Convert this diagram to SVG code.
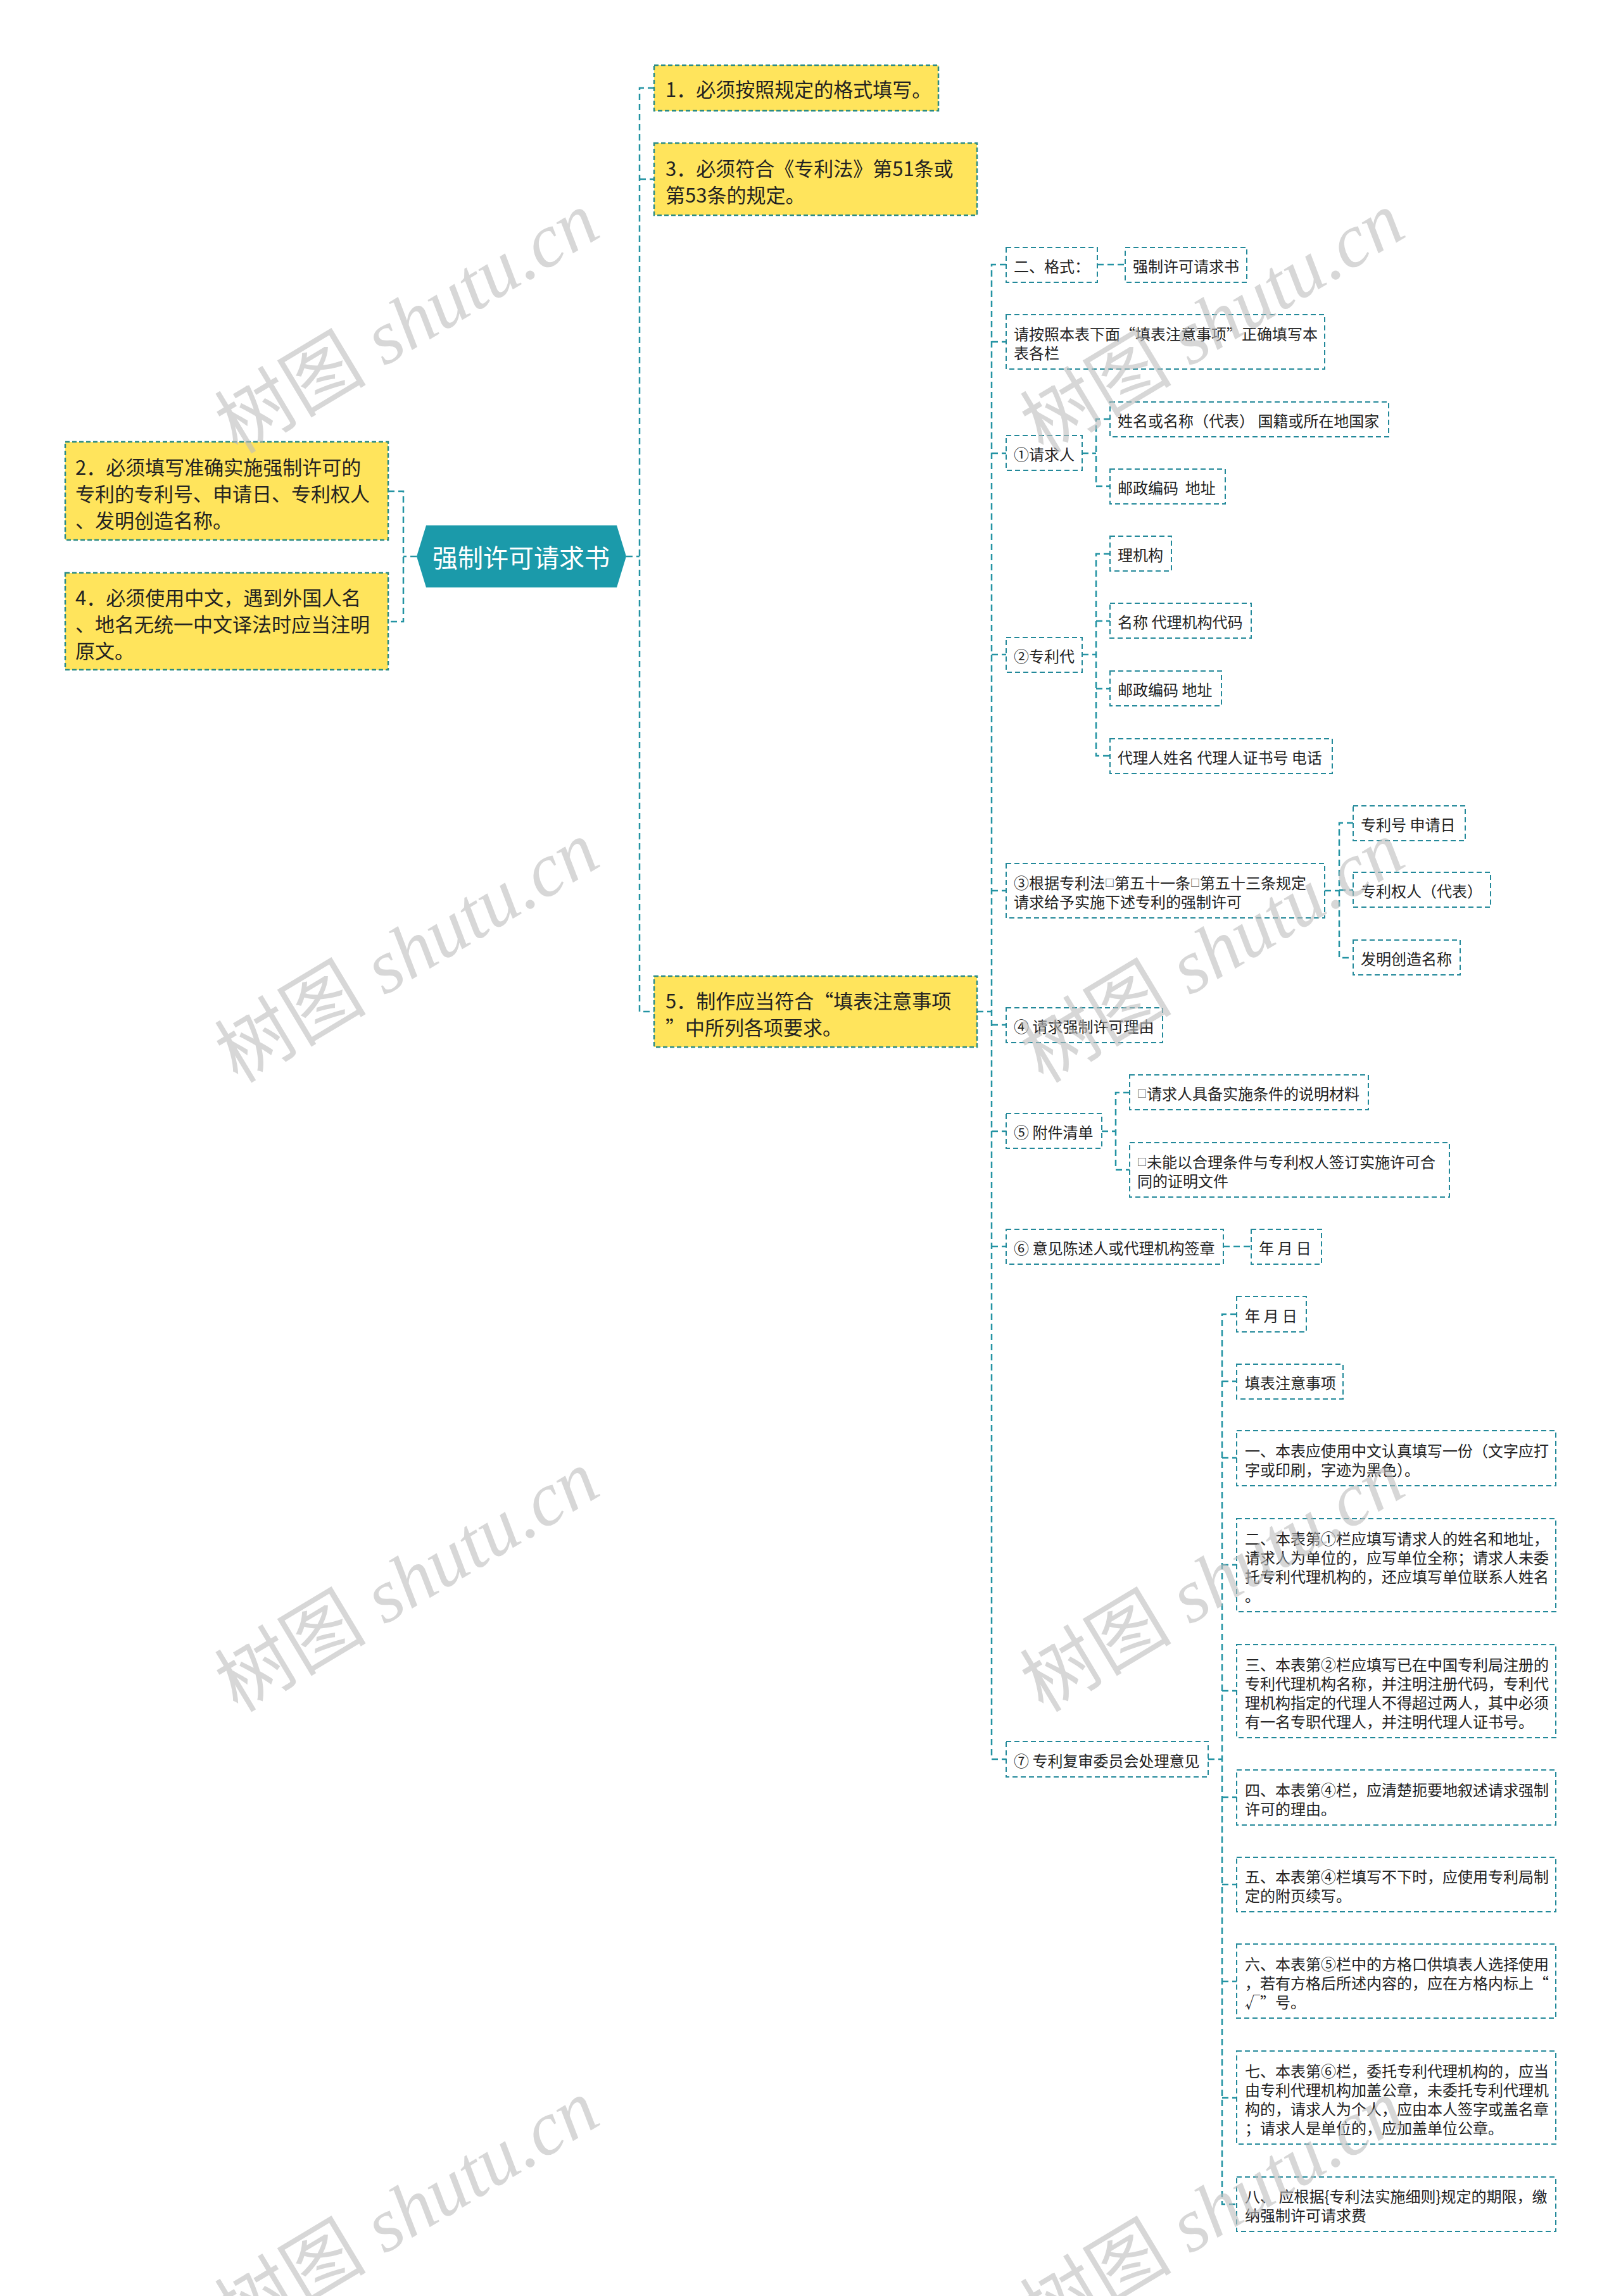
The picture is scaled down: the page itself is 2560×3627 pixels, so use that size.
<svg xmlns="http://www.w3.org/2000/svg" width="2560" height="3627" viewBox="0 0 2560 3627">
<style>
.c{fill:none;stroke:#2393a3;stroke-width:2.5;stroke-dasharray:10 6}
.w{fill:#fff;stroke:#23899a;stroke-width:2;stroke-dasharray:8 5}
.y{fill:#ffe45c;stroke:#2b8b85;stroke-width:2.5;stroke-dasharray:7 4}
.t{font-family:"Noto Sans CJK SC","Microsoft YaHei",sans-serif;font-size:24px;fill:#222;dominant-baseline:central}
.ty{font-size:31px}
.root{font-family:"Noto Sans CJK SC","Microsoft YaHei",sans-serif;font-size:40px;fill:#fff;dominant-baseline:central;text-anchor:middle}
.wm{font-family:"Liberation Serif","Noto Sans CJK SC",serif;font-size:120px;fill:#bdbdbd;fill-opacity:.6;text-anchor:middle}
.sq{font-size:15px}
</style>
<rect width="2560" height="3627" fill="#fff"/>
<g id="connectors">
<path class="c" d="M658 879 H637 M613 776 H637 V982 H613"/>
<path class="c" d="M989 879 H1010 M1033 139 H1010 V1598 H1033 M1010 283 H1033"/>
<path class="c" d="M1543 1598 H1566 M1589 418 H1566 V2779 H1589 M1566 540 H1589 M1566 716 H1589 M1566 1034 H1589 M1566 1407 H1589 M1566 1619 H1589 M1566 1787 H1589 M1566 1969 H1589"/>
<path class="c" d="M1733 418 H1777"/>
<path class="c" d="M1709 716 H1731 M1753 662 H1731 V768 H1753"/>
<path class="c" d="M1709 1034 H1731 M1753 875 H1731 V1194 H1753 M1731 981 H1753 M1731 1088 H1753"/>
<path class="c" d="M2092 1407 H2115 M2137 1300 H2115 V1513 H2137 M2115 1406 H2137"/>
<path class="c" d="M1740 1787 H1762 M1784 1726 H1762 V1848 H1784"/>
<path class="c" d="M1932 1969 H1976"/>
<path class="c" d="M1908 2779 H1930 M1953 2076 H1930 V3482 H1953 M1930 2182 H1953 M1930 2303 H1953 M1930 2472 H1953 M1930 2671 H1953 M1930 2839 H1953 M1930 2977 H1953 M1930 3130 H1953 M1930 3314 H1953"/>
</g>
<g id="root">
<polygon points="658,879 673,830 974,830 989,879 974,928 673,928" fill="#1b9aaa"/>
<text class="root" x="823" y="879">强制许可请求书</text>
</g>
<g id="y1"><rect class="y" x="1033" y="103" width="449" height="72"/><text class="t ty" x="1051" y="139">1．必须按照规定的格式填写。</text></g>
<g id="y3"><rect class="y" x="1033" y="226" width="510" height="114"/><text class="t ty" x="1051" y="264">3．必须符合《专利法》第51条或</text><text class="t ty" x="1051" y="306">第53条的规定。</text></g>
<g id="y2"><rect class="y" x="103" y="698" width="510" height="155"/><text class="t ty" x="119" y="736">2．必须填写准确实施强制许可的</text><text class="t ty" x="119" y="778">专利的专利号、申请日、专利权人</text><text class="t ty" x="119" y="820">、发明创造名称。</text></g>
<g id="y4"><rect class="y" x="103" y="905" width="510" height="153"/><text class="t ty" x="119" y="942">4．必须使用中文，遇到外国人名</text><text class="t ty" x="119" y="984">、地名无统一中文译法时应当注明</text><text class="t ty" x="119" y="1026">原文。</text></g>
<g id="y5"><rect class="y" x="1033" y="1542" width="510" height="112"/><text class="t ty" x="1051" y="1579">5．制作应当符合“填表注意事项</text><text class="t ty" x="1051" y="1621">”中所列各项要求。</text></g>
<g id="n-geshi"><rect class="w" x="1589" y="391" width="144" height="55"/><text class="t" x="1601" y="419">二、格式：</text></g>
<g id="n-geshi-v"><rect class="w" x="1777" y="391" width="192" height="55"/><text class="t" x="1789" y="419">强制许可请求书</text></g>
<g id="n-qing"><rect class="w" x="1589" y="497" width="503" height="86"/><text class="t" x="1601" y="526">请按照本表下面“填表注意事项”正确填写本</text><text class="t" x="1601" y="556">表各栏</text></g>
<g id="n-r1"><rect class="w" x="1589" y="688" width="120" height="55"/><text class="t" x="1601" y="716">①请求人</text></g>
<g id="n-r1a"><rect class="w" x="1753" y="635" width="440" height="55"/><text class="t" x="1765" y="663">姓名或名称（代表） 国籍或所在地国家</text></g>
<g id="n-r1b"><rect class="w" x="1753" y="741" width="182" height="55"/><text class="t" x="1765" y="769" xml:space="preserve">邮政编码  地址</text></g>
<g id="n-r2"><rect class="w" x="1589" y="1007" width="120" height="55"/><text class="t" x="1601" y="1035">②专利代</text></g>
<g id="n-r2a"><rect class="w" x="1753" y="847" width="97" height="55"/><text class="t" x="1765" y="875">理机构</text></g>
<g id="n-r2b"><rect class="w" x="1753" y="953" width="223" height="55"/><text class="t" x="1765" y="981">名称 代理机构代码</text></g>
<g id="n-r2c"><rect class="w" x="1753" y="1060" width="176" height="55"/><text class="t" x="1765" y="1088">邮政编码 地址</text></g>
<g id="n-r2d"><rect class="w" x="1753" y="1167" width="351" height="55"/><text class="t" x="1765" y="1195">代理人姓名 代理人证书号 电话</text></g>
<g id="n-r3"><rect class="w" x="1589" y="1364" width="503" height="86"/><text class="t" x="1601" y="1393">③根据专利法<tspan class="sq">□</tspan>第五十一条<tspan class="sq">□</tspan>第五十三条规定</text><text class="t" x="1601" y="1423">请求给予实施下述专利的强制许可</text></g>
<g id="n-r3a"><rect class="w" x="2137" y="1273" width="177" height="55"/><text class="t" x="2149" y="1301">专利号 申请日</text></g>
<g id="n-r3b"><rect class="w" x="2137" y="1378" width="217" height="55"/><text class="t" x="2149" y="1406">专利权人（代表）</text></g>
<g id="n-r3c"><rect class="w" x="2137" y="1485" width="169" height="55"/><text class="t" x="2149" y="1513">发明创造名称</text></g>
<g id="n-r4"><rect class="w" x="1589" y="1592" width="247" height="55"/><text class="t" x="1601" y="1620">④ 请求强制许可理由</text></g>
<g id="n-r5"><rect class="w" x="1589" y="1759" width="151" height="55"/><text class="t" x="1601" y="1787">⑤ 附件清单</text></g>
<g id="n-r5a"><rect class="w" x="1784" y="1698" width="377" height="55"/><text class="t" x="1796" y="1726"><tspan class="sq">□</tspan>请求人具备实施条件的说明材料</text></g>
<g id="n-r5b"><rect class="w" x="1784" y="1805" width="505" height="86"/><text class="t" x="1796" y="1834"><tspan class="sq">□</tspan>未能以合理条件与专利权人签订实施许可合</text><text class="t" x="1796" y="1864">同的证明文件</text></g>
<g id="n-r6"><rect class="w" x="1589" y="1942" width="343" height="55"/><text class="t" x="1601" y="1970">⑥ 意见陈述人或代理机构签章</text></g>
<g id="n-r6a"><rect class="w" x="1976" y="1942" width="111" height="55"/><text class="t" x="1988" y="1970">年 月 日</text></g>
<g id="n-r7"><rect class="w" x="1589" y="2751" width="319" height="56"/><text class="t" x="1601" y="2780">⑦ 专利复审委员会处理意见</text></g>
<g id="n-r7a"><rect class="w" x="1953" y="2048" width="110" height="56"/><text class="t" x="1966" y="2077">年 月 日</text></g>
<g id="n-r7b"><rect class="w" x="1953" y="2155" width="168" height="55"/><text class="t" x="1966" y="2183">填表注意事项</text></g>
<g id="n-r7c"><rect class="w" x="1953" y="2260" width="504" height="87"/><text class="t" x="1966" y="2290">一、本表应使用中文认真填写一份（文字应打</text><text class="t" x="1966" y="2320">字或印刷，字迹为黑色）。</text></g>
<g id="n-r7d"><rect class="w" x="1953" y="2399" width="504" height="147"/><text class="t" x="1966" y="2429">二、本表第①栏应填写请求人的姓名和地址，</text><text class="t" x="1966" y="2459">请求人为单位的，应写单位全称；请求人未委</text><text class="t" x="1966" y="2489">托专利代理机构的，还应填写单位联系人姓名</text><text class="t" x="1966" y="2519">。</text></g>
<g id="n-r7e"><rect class="w" x="1953" y="2598" width="504" height="147"/><text class="t" x="1966" y="2628">三、本表第②栏应填写已在中国专利局注册的</text><text class="t" x="1966" y="2658">专利代理机构名称，并注明注册代码，专利代</text><text class="t" x="1966" y="2688">理机构指定的代理人不得超过两人，其中必须</text><text class="t" x="1966" y="2718">有一名专职代理人，并注明代理人证书号。</text></g>
<g id="n-r7f"><rect class="w" x="1953" y="2796" width="504" height="87"/><text class="t" x="1966" y="2826">四、本表第④栏，应清楚扼要地叙述请求强制</text><text class="t" x="1966" y="2856">许可的理由。</text></g>
<g id="n-r7g"><rect class="w" x="1953" y="2934" width="504" height="86"/><text class="t" x="1966" y="2963">五、本表第④栏填写不下时，应使用专利局制</text><text class="t" x="1966" y="2993">定的附页续写。</text></g>
<g id="n-r7h"><rect class="w" x="1953" y="3071" width="504" height="117"/><text class="t" x="1966" y="3101">六、本表第⑤栏中的方格口供填表人选择使用</text><text class="t" x="1966" y="3131">，若有方格后所述内容的，应在方格内标上“</text><text class="t" x="1966" y="3161">√”号。</text></g>
<g id="n-r7i"><rect class="w" x="1953" y="3240" width="504" height="147"/><text class="t" x="1966" y="3270">七、本表第⑥栏，委托专利代理机构的，应当</text><text class="t" x="1966" y="3300">由专利代理机构加盖公章，未委托专利代理机</text><text class="t" x="1966" y="3330">构的，请求人为个人，应由本人签字或盖名章</text><text class="t" x="1966" y="3360">；请求人是单位的，应加盖单位公章。</text></g>
<g id="n-r7j"><rect class="w" x="1953" y="3439" width="504" height="86"/><text class="t" x="1966" y="3468">八、 应根据{专利法实施细则}规定的期限，缴</text><text class="t" x="1966" y="3498">纳强制许可请求费</text></g>
<g id="watermarks">
<text class="wm" x="664" y="545" transform="rotate(-31 664 545)">树图 <tspan font-style="italic">shutu.cn</tspan></text>
<text class="wm" x="664" y="1539" transform="rotate(-31 664 1539)">树图 <tspan font-style="italic">shutu.cn</tspan></text>
<text class="wm" x="664" y="2533" transform="rotate(-31 664 2533)">树图 <tspan font-style="italic">shutu.cn</tspan></text>
<text class="wm" x="664" y="3527" transform="rotate(-31 664 3527)">树图 <tspan font-style="italic">shutu.cn</tspan></text>
<text class="wm" x="1936" y="545" transform="rotate(-31 1936 545)">树图 <tspan font-style="italic">shutu.cn</tspan></text>
<text class="wm" x="1936" y="1539" transform="rotate(-31 1936 1539)">树图 <tspan font-style="italic">shutu.cn</tspan></text>
<text class="wm" x="1936" y="2533" transform="rotate(-31 1936 2533)">树图 <tspan font-style="italic">shutu.cn</tspan></text>
<text class="wm" x="1936" y="3527" transform="rotate(-31 1936 3527)">树图 <tspan font-style="italic">shutu.cn</tspan></text>
</g>
</svg>
